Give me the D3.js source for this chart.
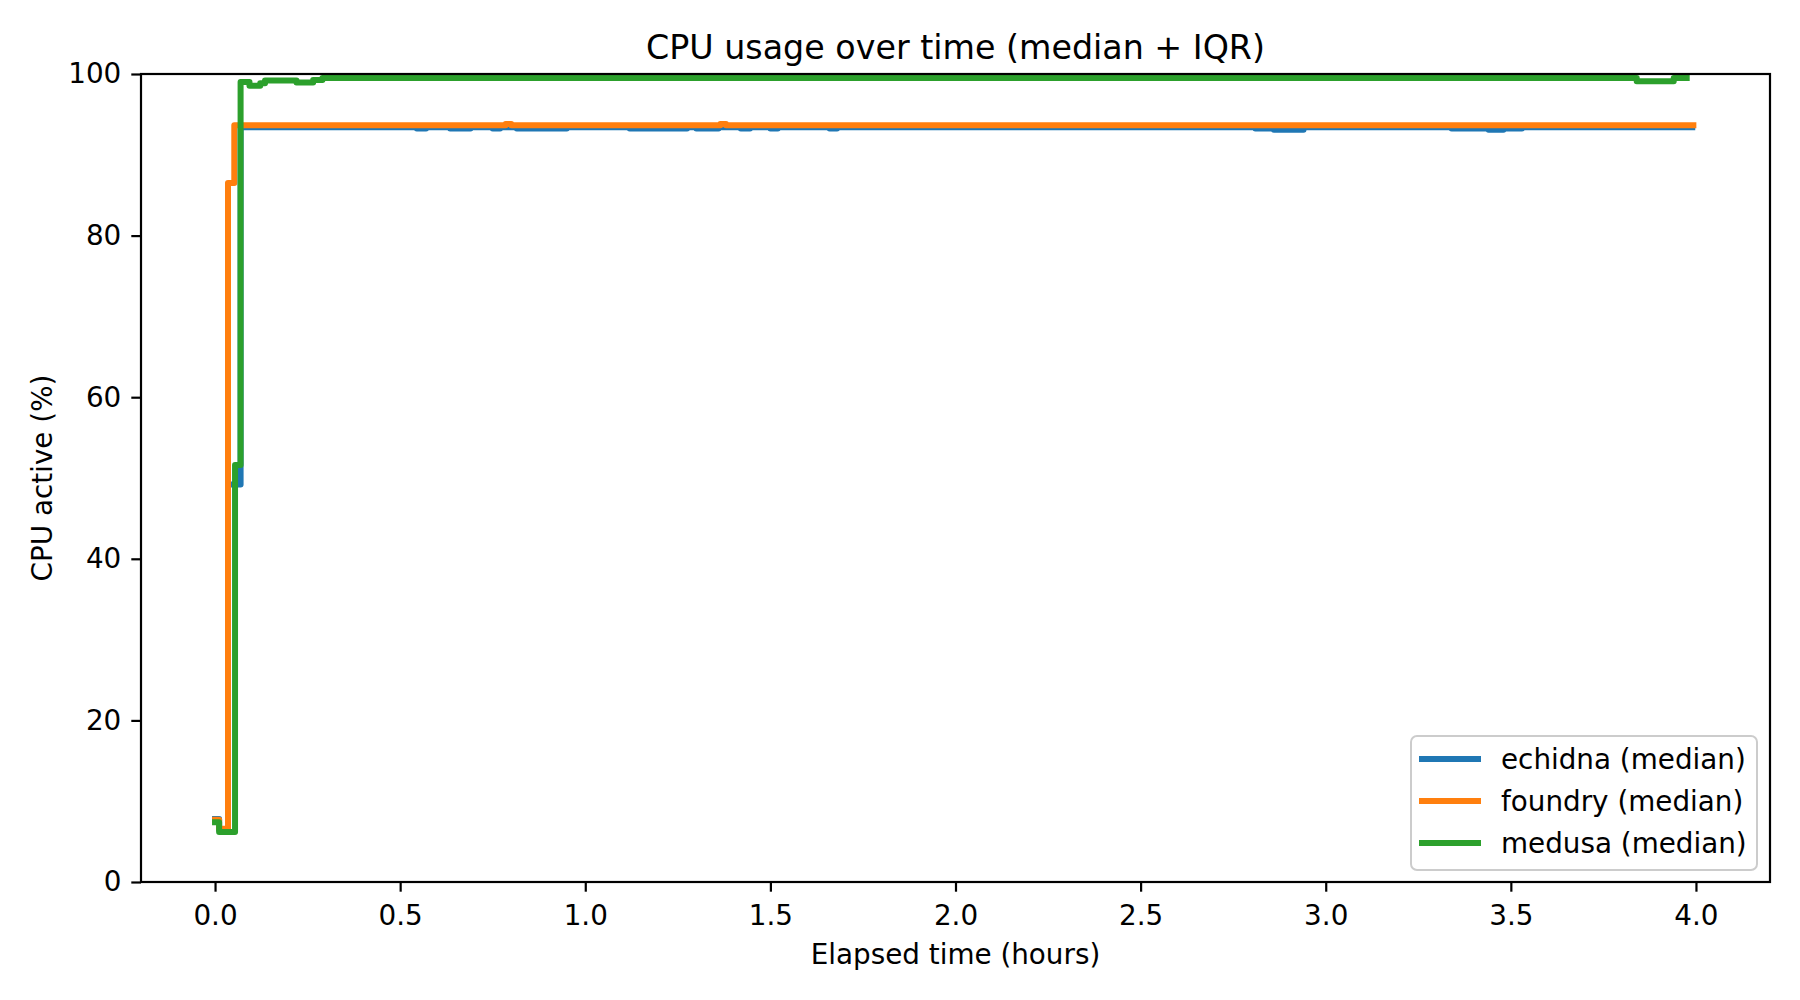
<!DOCTYPE html>
<html>
<head>
<meta charset="utf-8">
<script src="https://cdn.jsdelivr.net/npm/d3@7"></script>
<style>
  body { margin: 0; background: #fff; }
  text { font-family: "DejaVu Sans", sans-serif; fill: #000; }
</style>
</head>
<body>
<div id="chart"></div>
<script>
// series (hours, CPU %), step-after
const seriesNames = ["echidna (median)", "foundry (median)", "medusa (median)"];
const seriesColors = ["#1f77b4", "#ff7f0e", "#2ca02c"];

const echidnaHours = [0, 0.011, 0.035, 0.069, 0.545, 0.57, 0.635, 0.69, 0.75, 0.77, 0.815, 0.95,
    1.12, 1.275, 1.30, 1.36, 1.42, 1.445, 1.50, 1.52, 1.66, 1.68, 2.81, 2.86, 2.94,
    3.34, 3.44, 3.48, 3.53, 3.99];
const echidnaCpu = [7.8, 6.5, 49.2, 93.4, 93.27, 93.4, 93.27, 93.4, 93.27, 93.4, 93.27, 93.4,
    93.27, 93.4, 93.27, 93.4, 93.27, 93.4, 93.27, 93.4, 93.27, 93.4, 93.27, 93.1, 93.4,
    93.27, 93.1, 93.27, 93.4, 93.4];

const foundryHours = [0, 0.011, 0.035, 0.052, 0.785, 0.80, 1.365, 1.38, 3.993];
const foundryCpu = [7.7, 6.6, 86.5, 93.65, 93.8, 93.65, 93.8, 93.65, 93.65];

const medusaHours = [0, 0.011, 0.054, 0.069, 0.093, 0.122, 0.135, 0.22, 0.265, 0.29, 3.84, 3.94, 3.975];
const medusaCpu = [7.4, 6.2, 51.6, 99.0, 98.55, 98.85, 99.2, 98.95, 99.25, 99.5, 99.1, 99.5, 99.5];

const xTicks = [0, 0.5, 1.0, 1.5, 2.0, 2.5, 3.0, 3.5, 4.0];
const yTicks = [0, 20, 40, 60, 80, 100];

const series = [
    { name: seriesNames[0], color: seriesColors[0], pts: d3.zip(echidnaHours, echidnaCpu) },
    { name: seriesNames[1], color: seriesColors[1], pts: d3.zip(foundryHours, foundryCpu) },
    { name: seriesNames[2], color: seriesColors[2], pts: d3.zip(medusaHours, medusaCpu) }
];

const W = 1800, H = 1000;
const plotL = 141, plotR = 1770, plotT = 74, plotB = 882;
const fontSize = 27.8;

const svg = d3.select("#chart").append("svg")
    .attr("width", W).attr("height", H)
    .style("display", "block");

const x = d3.scaleLinear().domain([-0.2, 4.2]).range([plotL, plotR]);
const y = d3.scaleLinear().domain([0, 100]).range([plotB, plotT]);

// Lines
const line = d3.line()
    .x(d => x(d[0]))
    .y(d => y(d[1]))
    .curve(d3.curveStepAfter);

svg.append("defs").append("clipPath").attr("id", "clip")
    .append("rect").attr("x", plotL).attr("y", plotT - 4)
    .attr("width", plotR - plotL).attr("height", plotB - plotT + 4);

svg.append("g").attr("clip-path", "url(#clip)")
    .selectAll("path").data(series).enter().append("path")
    .attr("d", d => line(d.pts))
    .attr("fill", "none")
    .attr("stroke", d => d.color)
    .attr("stroke-width", 6)
    .attr("stroke-linejoin", "round")
    .attr("stroke-linecap", "square");

// Axes
const xAxis = svg.append("g")
    .attr("transform", `translate(0,${plotB})`)
    .call(d3.axisBottom(x).tickValues(xTicks).tickFormat(d3.format(".1f"))
        .tickSize(9.7).tickPadding(13.5));
const yAxis = svg.append("g")
    .attr("transform", `translate(${plotL},0)`)
    .call(d3.axisLeft(y).tickValues(yTicks).tickFormat(d3.format("d"))
        .tickSize(9.7).tickPadding(10));

[xAxis, yAxis].forEach(g => {
    g.select(".domain").remove();
    g.selectAll(".tick line").attr("stroke", "#000").attr("stroke-width", 2.2);
    g.selectAll(".tick text")
        .attr("font-size", fontSize + "px")
        .attr("font-family", "DejaVu Sans, sans-serif")
        .attr("fill", "#000");
});

// Frame
svg.append("rect")
    .attr("x", plotL).attr("y", plotT)
    .attr("width", plotR - plotL).attr("height", plotB - plotT)
    .attr("fill", "none")
    .attr("stroke", "#000")
    .attr("stroke-width", 2.2);

// Title and labels
svg.append("text")
    .attr("x", (plotL + plotR) / 2).attr("y", 59)
    .attr("text-anchor", "middle")
    .attr("font-size", "33.3px")
    .text("CPU usage over time (median + IQR)");

svg.append("text")
    .attr("x", (plotL + plotR) / 2).attr("y", 964)
    .attr("text-anchor", "middle")
    .attr("font-size", fontSize + "px")
    .text("Elapsed time (hours)");

svg.append("text")
    .attr("transform", `translate(52,${(plotT + plotB) / 2}) rotate(-90)`)
    .attr("text-anchor", "middle")
    .attr("font-size", fontSize + "px")
    .text("CPU active (%)");

// Legend
const legend = svg.append("g");
legend.append("rect")
    .attr("x", 1411).attr("y", 736)
    .attr("width", 346).attr("height", 134)
    .attr("rx", 6)
    .attr("fill", "#fff").attr("fill-opacity", 0.8)
    .attr("stroke", "#cccccc").attr("stroke-width", 2);

const items = legend.selectAll(".item").data(series).enter().append("g")
    .attr("transform", (d, i) => `translate(0, ${759 + i * 42})`);

items.append("line")
    .attr("x1", 1422).attr("x2", 1478)
    .attr("stroke", d => d.color)
    .attr("stroke-width", 6)
    .attr("stroke-linecap", "square");

items.append("text")
    .attr("x", 1501)
    .attr("dy", "0.35em")
    .attr("font-size", fontSize + "px")
    .text(d => d.name);
</script>
</body>
</html>
